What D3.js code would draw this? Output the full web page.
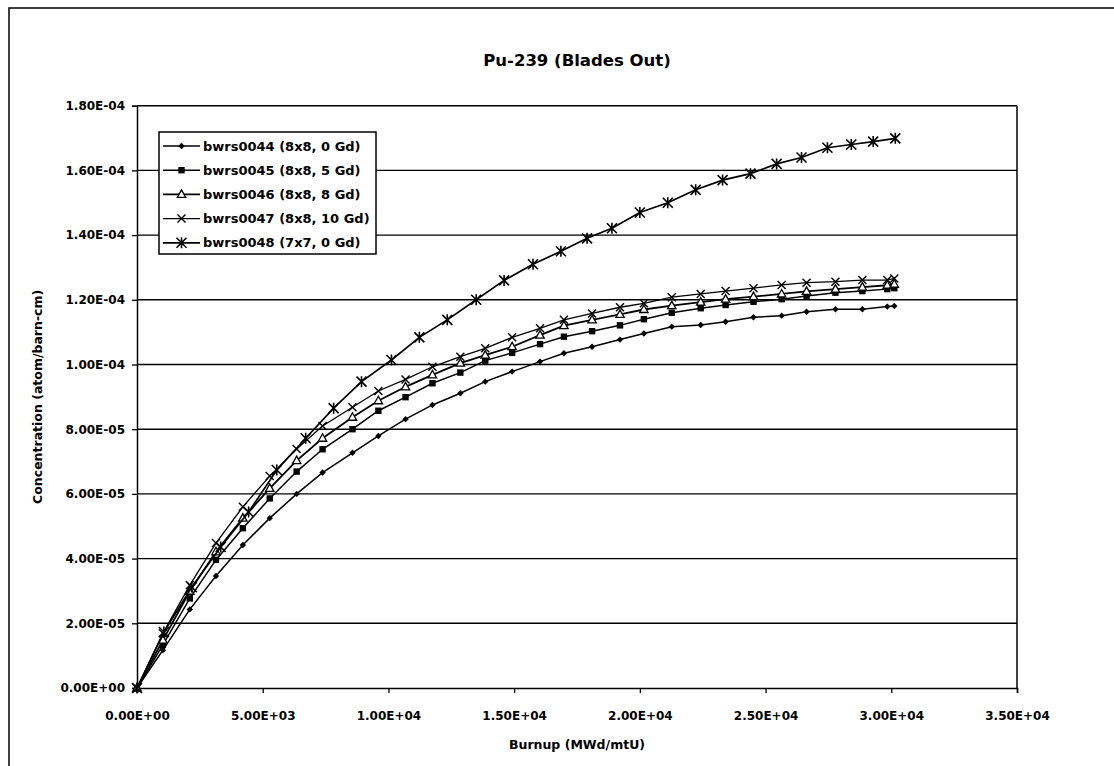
<!DOCTYPE html>
<html><head><meta charset="utf-8">
<script src="https://cdn.jsdelivr.net/npm/d3@7"></script>
<style>body{margin:0;background:#fff}svg{display:block}text{font-family:"DejaVu Sans",sans-serif;font-weight:bold;fill:#000}</style>
</head><body>
<svg id="c" width="1114" height="766"></svg>
<script>
const chartTitle = "Pu-239 (Blades Out)";
const xTitle = "Burnup (MWd/mtU)";
const yTitle = "Concentration (atom/barn-cm)";
const xTicks = [0, 5000, 10000, 15000, 20000, 25000, 30000, 35000];
const yTicks = [0, 2e-5, 4e-5, 6e-5, 8e-5, 1e-4, 1.2e-4, 1.4e-4, 1.6e-4, 1.8e-4];
const seriesNames = ["bwrs0044 (8x8, 0 Gd)", "bwrs0045 (8x8, 5 Gd)", "bwrs0046 (8x8, 8 Gd)", "bwrs0047 (8x8, 10 Gd)", "bwrs0048 (7x7, 0 Gd)"];
const burnup8x8 = [0, 1030, 2100, 3140, 4210, 5280, 6350, 7380, 8570, 9600, 10680, 11750, 12860, 13850, 14920, 16030, 16980, 18100, 19210, 20160, 21270, 22420, 23410, 24520, 25640, 26630, 27780, 28850, 29840, 30120];
const burnup7x7 = [0, 1070, 2180, 3330, 4440, 5560, 6710, 7820, 8930, 10120, 11230, 12340, 13490, 14600, 15750, 16860, 17900, 18890, 20000, 21110, 22220, 23290, 24400, 25440, 26430, 27460, 28410, 29280, 30160];
// concentrations in units of 1e-5 atom/barn-cm
const conc0044 = [0, 1.17, 2.43, 3.46, 4.42, 5.25, 6.00, 6.66, 7.27, 7.79, 8.31, 8.75, 9.11, 9.47, 9.78, 10.09, 10.35, 10.55, 10.77, 10.96, 11.17, 11.22, 11.32, 11.46, 11.51, 11.63, 11.71, 11.71, 11.79, 11.81];
const conc0045 = [0, 1.33, 2.77, 3.96, 4.94, 5.86, 6.69, 7.38, 8.00, 8.57, 8.99, 9.42, 9.75, 10.12, 10.36, 10.63, 10.86, 11.03, 11.21, 11.40, 11.60, 11.74, 11.84, 11.94, 12.02, 12.12, 12.22, 12.27, 12.33, 12.36];
const conc0046 = [0, 1.48, 2.99, 4.21, 5.25, 6.17, 7.03, 7.72, 8.37, 8.88, 9.31, 9.68, 10.04, 10.29, 10.55, 10.91, 11.20, 11.38, 11.55, 11.70, 11.82, 11.93, 12.02, 12.10, 12.18, 12.26, 12.33, 12.39, 12.45, 12.48];
const conc0047 = [0, 1.69, 3.18, 4.48, 5.60, 6.55, 7.39, 8.10, 8.68, 9.18, 9.54, 9.93, 10.24, 10.50, 10.84, 11.12, 11.38, 11.58, 11.77, 11.89, 12.08, 12.18, 12.27, 12.36, 12.46, 12.53, 12.56, 12.61, 12.61, 12.66];
const conc0048 = [0, 1.73, 3.12, 4.36, 5.44, 6.74, 7.72, 8.65, 9.47, 10.14, 10.84, 11.38, 12.00, 12.60, 13.10, 13.50, 13.90, 14.21, 14.70, 15.00, 15.40, 15.70, 15.90, 16.20, 16.40, 16.70, 16.80, 16.89, 16.99];

const seriesX = [burnup8x8, burnup8x8, burnup8x8, burnup8x8, burnup7x7];
const seriesY = [conc0044, conc0045, conc0046, conc0047, conc0048];
const markerKinds = ["diamond", "square", "triangle", "x", "star"];

const svg = d3.select("#c");
const L = 137, R = 1017, T = 105.7, B = 688;
const x = d3.scaleLinear().domain([0, 35000]).range([L, R]);
const y = d3.scaleLinear().domain([0, 1.8e-4]).range([B, T]);

function fmtE(v) {
  if (v === 0) return "0.00E+00";
  let e = Math.floor(Math.log10(Math.abs(v)) + 1e-9);
  let m = v / Math.pow(10, e);
  if (Math.abs(m) >= 9.995) { m /= 10; e += 1; }
  const sign = e < 0 ? "-" : "+";
  return m.toFixed(2) + "E" + sign + String(Math.abs(e)).padStart(2, "0");
}

// outer frame
svg.append("path").attr("d", "M9,770 L9,8 L1120,8").attr("fill", "none").attr("stroke", "#000").attr("stroke-width", 1.5);

// title
svg.append("text").attr("x", 577).attr("y", 66).attr("text-anchor", "middle").attr("font-size", 16.5).text(chartTitle);

// gridlines
svg.append("g").selectAll("line").data(yTicks.filter(d => d > 0)).join("line")
  .attr("x1", L).attr("x2", R).attr("y1", d => y(d)).attr("y2", d => y(d))
  .attr("stroke", "#000").attr("stroke-width", 1.4);
// plot border right
svg.append("line").attr("x1", R).attr("x2", R).attr("y1", T).attr("y2", B).attr("stroke", "#000").attr("stroke-width", 1.5);

// axes
const yAxis = d3.axisLeft(y).tickValues(yTicks).tickFormat(fmtE).tickSize(5).tickPadding(7);
const gy = svg.append("g").attr("transform", `translate(${L},0)`).call(yAxis);
const xAxis = d3.axisBottom(x).tickValues(xTicks).tickFormat(fmtE).tickSize(5).tickPadding(18);
const gx = svg.append("g").attr("transform", `translate(0,${B})`).call(xAxis);
[gx, gy].forEach(g => {
  g.select(".domain").attr("stroke", "#000").attr("stroke-width", 1.5);
  g.selectAll(".tick line").attr("stroke", "#000").attr("stroke-width", 1.3);
  g.selectAll(".tick text").attr("font-size", 12).attr("font-family", "DejaVu Sans").attr("font-weight", "bold").attr("fill", "#000");
});

// axis titles
svg.append("text").attr("x", x(17500)).attr("y", 749).attr("text-anchor", "middle").attr("font-size", 12.5).text(xTitle);
svg.append("text").attr("transform", `translate(42,${(T + B) / 2}) rotate(-90)`).attr("text-anchor", "middle").attr("font-size", 12.5).text(yTitle);

// markers
function drawMarker(g, kind, cx, cy) {
  const s = "#000";
  if (kind === "diamond") {
    g.append("path").attr("d", `M${cx},${cy-3.2}L${cx+3.2},${cy}L${cx},${cy+3.2}L${cx-3.2},${cy}Z`).attr("fill", s);
  } else if (kind === "square") {
    g.append("rect").attr("x", cx-3.2).attr("y", cy-3.2).attr("width", 6.4).attr("height", 6.4).attr("fill", s);
  } else if (kind === "triangle") {
    g.append("path").attr("d", `M${cx},${cy-4.5}L${cx+4.2},${cy+3}L${cx-4.2},${cy+3}Z`).attr("fill", "#fff").attr("stroke", s).attr("stroke-width", 1.3);
  } else if (kind === "x") {
    g.append("path").attr("d", `M${cx-4},${cy-4}L${cx+4},${cy+4}M${cx-4},${cy+4}L${cx+4},${cy-4}`).attr("stroke", s).attr("stroke-width", 1.4);
  } else if (kind === "star") {
    g.append("path").attr("d", `M${cx-5},${cy-5}L${cx+5},${cy+5}M${cx-5},${cy+5}L${cx+5},${cy-5}M${cx},${cy-5.5}L${cx},${cy+5.5}`).attr("stroke", s).attr("stroke-width", 1.6);
  }
}

const lineWidths = [1.5, 1.5, 1.8, 1.3, 1.7];
const plot = svg.append("g");
seriesY.forEach((vals, i) => {
  const pts = vals.map((v, j) => [seriesX[i][j], v * 1e-5]);
  const line = d3.line().x(d => x(d[0])).y(d => y(d[1]));
  plot.append("path").datum(pts).attr("d", line).attr("fill", "none").attr("stroke", "#000").attr("stroke-width", lineWidths[i]);
  const mg = plot.append("g");
  pts.forEach(p => drawMarker(mg, markerKinds[i], x(p[0]), y(p[1])));
});

// legend
const lg = svg.append("g");
lg.append("rect").attr("x", 159).attr("y", 132).attr("width", 217).attr("height", 122).attr("fill", "#fff").attr("stroke", "#000").attr("stroke-width", 1.5);
seriesNames.forEach((n, i) => {
  const ry = 146 + i * 24.2;
  lg.append("line").attr("x1", 163).attr("x2", 200).attr("y1", ry).attr("y2", ry).attr("stroke", "#000").attr("stroke-width", lineWidths[i]);
  drawMarker(lg, markerKinds[i], 181.5, ry);
  lg.append("text").attr("x", 203).attr("y", ry).attr("dy", "0.36em").attr("font-size", 13).text(n);
});
</script>
</body></html>
